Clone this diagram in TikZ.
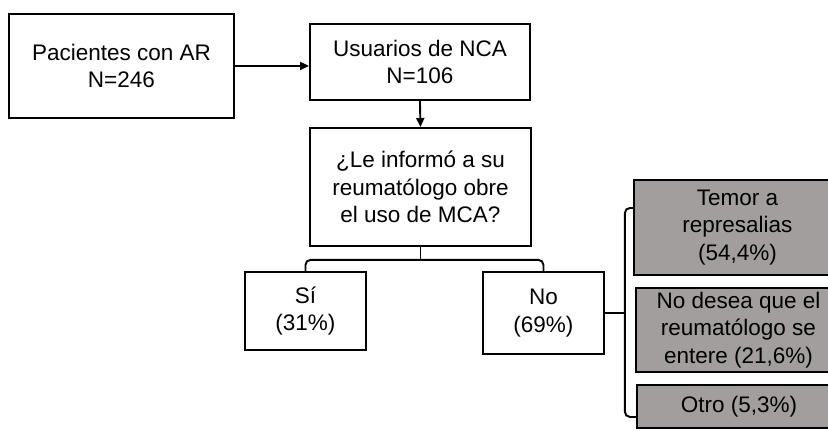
\documentclass[tikz,border=0pt]{standalone}
\usepackage{fontspec}
\setmainfont{Liberation Sans}
\usetikzlibrary{arrows.meta}
\definecolor{boxgray}{RGB}{163,158,158}
\begin{document}
\begin{tikzpicture}[x=1pt,y=-1pt,
  box/.style={draw, line width=1.9pt, align=center, inner sep=0pt, anchor=north west,
    font=\fontsize{22.5}{27.5}\selectfont},
  graybox/.style={box, fill=boxgray},
  conn/.style={line width=1.9pt},
  arr/.style={conn, -{Triangle[length=9pt,width=8pt]}}]
\useasboundingbox (0,0) rectangle (828,431);
\clip (0,0) rectangle (828,431);
\node[box, minimum width=225pt, minimum height=104pt] (p) at (8,13) {Pacientes con AR\\N=246};
\node[box, minimum width=220pt, minimum height=76pt] (u) at (309,23) {Usuarios de NCA\\N=106};
\node[box, minimum width=221pt, minimum height=118pt] (q) at (309,127) {¿Le informó a su\\reumatólogo obre\\el uso de MCA?};
\node[box, minimum width=121pt, minimum height=78pt] (si) at (244,271) {Sí\\(31\%)};
\node[box, minimum width=121pt, minimum height=82pt] (no) at (482,271) {No\\(69\%)};
\node[graybox, minimum width=207pt, minimum height=95pt] (ga) at (633,179) {Temor a\\represalias\\(54,4\%)};
\node[graybox, minimum width=205pt, minimum height=84pt] (gb) at (635,287) {No desea que el\\reumatólogo se\\entere (21,6\%)};
\node[graybox, minimum width=204pt, minimum height=43pt] (gc) at (636,384) {Otro (5,3\%)};
\draw[arr] (p.east) -- (p.east -| u.west);
\draw[arr] (u.south) -- (q.north);
\draw[conn] (q.south) -- ++(0,13) coordinate (qj);
\draw[conn, rounded corners=5pt] (si.north) |- (qj) -| (no.north);
\draw[conn] (no.east) -- ++(20,0) coordinate (nj);
\draw[conn, rounded corners=5pt] ([yshift=19.5pt]ga.west) -| (nj) |- ([yshift=-10.5pt]gc.west);
\end{tikzpicture}
\end{document}
